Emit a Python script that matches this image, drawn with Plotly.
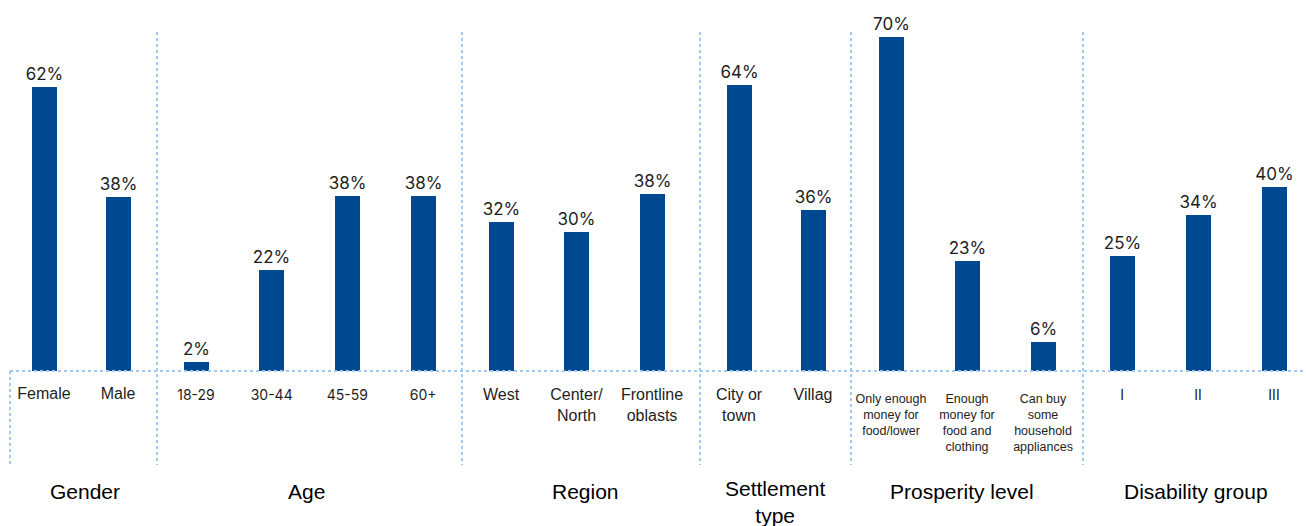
import plotly.graph_objects as go

W, H = 1306, 526

# Survey shares by respondent group (%)
gender_labels = ["Female", "Male"]
gender_values = [62, 38]

age_labels = ["18-29", "30-44", "45-59", "60+"]
age_values = [2, 22, 38, 38]

region_labels = ["West", "Center/<br>North", "Frontline<br>oblasts"]
region_values = [32, 30, 38]

settlement_labels = ["City or<br>town", "Villag"]
settlement_values = [64, 36]

prosperity_labels = [
    "Only enough<br>money for<br>food/lower",
    "Enough<br>money for<br>food and<br>clothing",
    "Can buy<br>some<br>household<br>appliances",
]
prosperity_values = [70, 23, 6]

disability_labels = ["I", "II", "III"]
disability_values = [25, 34, 40]

group_titles = ["Gender", "Age", "Region", "Settlement<br>type",
                "Prosperity level", "Disability group"]

BAR = "#004990"
GRID = "#a3c9f0"
INK = "#1e1e1e"
NUM_FONT = "Inter"
TXT_FONT = "Liberation Sans"

BASE_PX = 371          # baseline of all panels, px from top
TOP_PX = 0

# panel layout: left edge, right edge, first bar centre, bar pitch (px),
# px per percentage point, tick font family/size, tick label standoff
panels = [
    (gender_labels, gender_values, 10, 157, 44, 74, 4.58, TXT_FONT, 16, 11),
    (age_labels, age_values, 157, 462, 196, 75.7, 4.6, NUM_FONT, 14, 14),
    (region_labels, region_values, 462, 700, 501, 75.5, 4.65, TXT_FONT, 16, 12),
    (settlement_labels, settlement_values, 700, 851, 739, 74, 4.47, TXT_FONT, 16, 12),
    (prosperity_labels, prosperity_values, 851, 1083, 891, 76, 4.77, TXT_FONT, 12.5, 18),
    (disability_labels, disability_values, 1083, 1306, 1122, 76, 4.6, NUM_FONT, 14, 14),
]

fig = go.Figure()
layout = dict(
    width=W, height=H,
    margin=dict(l=0, r=0, t=0, b=0),
    paper_bgcolor="white", plot_bgcolor="rgba(0,0,0,0)",
    showlegend=False,
    bargap=0,
)

y_dom = [1 - BASE_PX / H, 1 - TOP_PX / H]

for i, (labels, values, L, R, c0, pitch, scale, tfam, tsize, stand) in enumerate(panels, start=1):
    xa = "x" if i == 1 else f"x{i}"
    ya = "y" if i == 1 else f"y{i}"
    n = len(labels)
    idx = list(range(n))
    a = -(c0 - L) / pitch
    b = a + (R - L) / pitch
    fig.add_trace(go.Bar(
        x=idx, y=values, xaxis=xa, yaxis=ya,
        width=25 / pitch,
        marker=dict(color=BAR, line=dict(width=0)),
        texttemplate="%{y}%", textposition="outside",
        constraintext="none",
        textfont=dict(family=NUM_FONT, size=17, color=INK),
        cliponaxis=False, hoverinfo="skip",
    ))
    key = "" if i == 1 else str(i)
    layout[f"xaxis{key}"] = dict(
        domain=[L / W, R / W], range=[a, b],
        tickmode="array", tickvals=idx, ticktext=labels,
        tickfont=dict(family=tfam, size=tsize, color=INK),
        ticks="", showline=False, showgrid=False, zeroline=False,
        anchor=ya, ticklabelstandoff=stand, fixedrange=True,
    )
    layout[f"yaxis{key}"] = dict(
        domain=y_dom, range=[0, (BASE_PX - TOP_PX) / scale],
        visible=False, anchor=xa, fixedrange=True,
    )

fig.update_layout(**layout)

def px_x(v):
    return v / W

def px_y(v):
    return 1 - v / H

dot = dict(color=GRID, width=2, dash="dot")
shapes = [
    dict(type="line", xref="paper", yref="paper", x0=px_x(10), x1=1,
         y0=px_y(BASE_PX), y1=px_y(BASE_PX), line=dot, layer="above"),
    dict(type="line", xref="paper", yref="paper", x0=px_x(10), x1=px_x(10),
         y0=px_y(BASE_PX), y1=px_y(465), line=dot),
]
for sx in [157, 462, 700, 851, 1083]:
    shapes.append(dict(type="line", xref="paper", yref="paper",
                       x0=px_x(sx), x1=px_x(sx), y0=px_y(32), y1=px_y(465),
                       line=dot))
fig.update_layout(shapes=shapes)

title_x = [85, 306, 585, 775, 962, 1196]
for t, cx in zip(group_titles, title_x):
    two = "<br>" in t
    fig.add_annotation(
        text=t, xref="paper", yref="paper",
        x=px_x(cx), y=px_y(491), xanchor="center",
        yanchor="top" if two else "middle",
        yshift=16 if two else 0,
        showarrow=False, align="center",
        font=dict(family=TXT_FONT, size=21, color="#000"),
    )

fig.write_html("out.html")
